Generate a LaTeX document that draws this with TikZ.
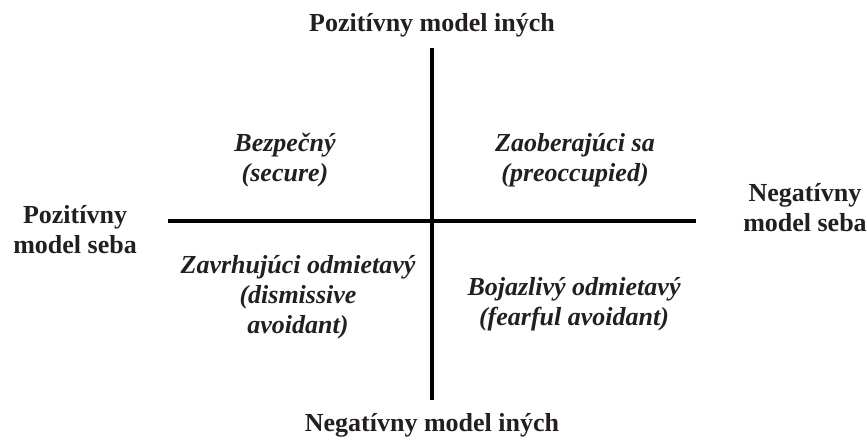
\documentclass[tikz,border=0pt]{standalone}
\usepackage{fontspec}
\setmainfont{Liberation Serif}
\definecolor{txt}{HTML}{231F20}
\begin{document}
\begin{tikzpicture}[
    x=1pt, y=-1pt,
    every node/.style={align=center, inner sep=0pt, text=txt,
        font=\fontsize{26}{30}\selectfont\bfseries},
    quad/.style={font=\fontsize{26}{30}\selectfont\bfseries\itshape},
    axisline/.style={line width=4pt, draw=black}
]
\useasboundingbox (0,0) rectangle (867,443);
% axes
\coordinate (vtop) at (432,48);
\coordinate (vbot) at (432,400);
\coordinate (hleft) at (168,221);
\coordinate (hright) at (696,221);
\draw[axisline] (vtop) -- (vbot);
\draw[axisline] (hleft) -- (hright);
% axis labels
\node (othpos) at (432,25) {Pozitívny model iných};
\node (othneg) at (432,425) {Negatívny model iných};
\node (selfpos) at (75,230) {Pozitívny\\model seba};
\node (selfneg) at (805,208) {Negatívny\\model seba};
% quadrants
\node[quad] (secure) at (285,160) {Bezpečný\\(secure)};
\node[quad] (preocc) at (575,160) {Zaoberajúci sa\\(preoccupied)};
\node[quad] (dismiss) at (298,297) {Zavrhujúci odmietavý\\(dismissive\\avoidant)};
\node[quad] (fearful) at (574,304) {Bojazlivý odmietavý\\(fearful avoidant)};
\end{tikzpicture}
\end{document}
